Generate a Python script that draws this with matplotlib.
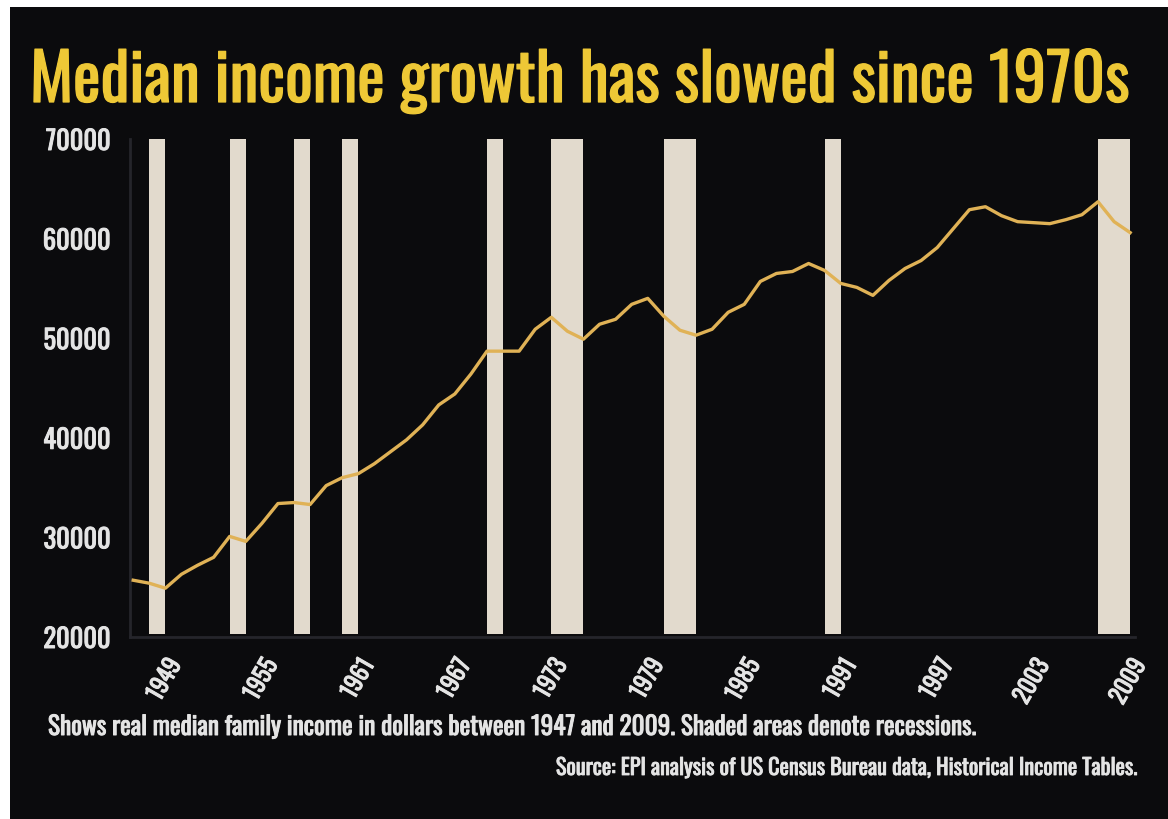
import matplotlib.pyplot as plt
import matplotlib.patheffects as pe
from matplotlib.patches import Rectangle

years = list(range(1947, 2010))
income = [25700, 25400, 24900, 26300, 27200, 28000, 30100, 29600, 31400, 33400,
          33500, 33300, 35200, 36000, 36400, 37400, 38600, 39800, 41300, 43300,
          44400, 46400, 48700, 48700, 48700, 50900, 52100, 50700, 49900, 51400,
          51900, 53400, 54000, 52200, 50800, 50300, 50900, 52600, 53400, 55700,
          56500, 56700, 57500, 56800, 55500, 55100, 54300, 55800, 57000, 57800,
          59100, 61000, 62900, 63200, 62300, 61700, 61600, 61500, 61900, 62400,
          63700, 61700, 60600]

# recession start year and length in years
rec_start = [1948, 1953, 1957, 1960, 1969, 1973, 1980, 1990, 2007]
rec_len = [1, 1, 1, 1, 1, 2, 2, 1, 2]

tick_years = [1949, 1955, 1961, 1967, 1973, 1979, 1985, 1991, 1997, 2003, 2009]
y_ticks = [20000, 30000, 40000, 50000, 60000, 70000]

title = "Median income growth has slowed since 1970s"
note = "Shows real median family income in dollars between 1947 and 2009. Shaded areas denote recessions."
source = "Source: EPI analysis of US Census Bureau data, Historical Income Tables."

cond = ["Oswald", "DejaVu Sans"]
grey_txt = "#e4e4e4"


def bolder(color, w=0.8):
    # Oswald only ships regular here, a thin stroke thickens it a bit
    return [pe.withStroke(linewidth=w, foreground=color)]


fig = plt.figure(figsize=(11.68, 8.2), dpi=100)
fig.patch.set_facecolor("white")
fig.patches.append(Rectangle((10 / 1168, 0), 1 - 10 / 1168, 1 - 8 / 820,
                             transform=fig.transFigure, facecolor="#0b0b0d",
                             edgecolor="none", zorder=-10))

ax = fig.add_axes([130 / 1168, 1 - 638 / 820, 1005 / 1168, 498 / 820])
ax.set_facecolor("none")
ax.set_xlim(1946.8, 2009.3)
ax.set_ylim(20000, 70000)

for s, n in zip(rec_start, rec_len):
    ax.bar(s, 70000 - 20300, width=n, bottom=20300, align="edge",
           color="#e2dacd", zorder=1)

ax.plot(years, income, color="#e0b256", lw=2.4, zorder=3)

ax.set_yticks(y_ticks)
ax.set_yticklabels([str(v) for v in y_ticks], family=cond,
                   fontsize=19, color=grey_txt)
ax.set_xticks(tick_years)
ax.set_xticklabels([str(v) for v in tick_years], family=cond,
                   fontsize=17, color=grey_txt,
                   rotation=60, ha="right", va="top", rotation_mode="anchor")
for lab in ax.get_xticklabels() + ax.get_yticklabels():
    lab.set_path_effects(bolder(grey_txt, 0.7))
ax.tick_params(length=0)
ax.tick_params(axis="y", pad=14)
ax.tick_params(axis="x", pad=13)
for side in ["top", "right"]:
    ax.spines[side].set_visible(False)
for side in ["left", "bottom"]:
    ax.spines[side].set_color("#25252b")
    ax.spines[side].set_linewidth(2)

fig.text(30 / 1168, 1 - 103 / 820, title, family=cond,
         fontsize=47, color="#eec836", ha="left", va="baseline",
         path_effects=bolder("#eec836", 0.9))
fig.text(48 / 1168, 1 - 736 / 820, note, family=cond,
         fontsize=18.2, color=grey_txt, ha="left", va="baseline",
         path_effects=bolder(grey_txt, 0.7))
fig.text(1140 / 1168, 1 - 776 / 820, source, family=cond,
         fontsize=16, color=grey_txt, ha="right", va="baseline",
         path_effects=bolder(grey_txt, 0.6))

fig.savefig("out.png", dpi=100, facecolor=fig.get_facecolor())
